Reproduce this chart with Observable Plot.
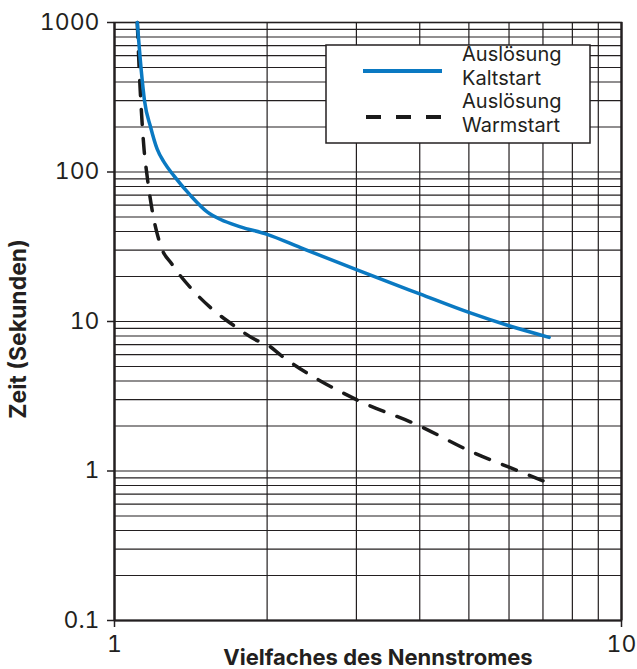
<!DOCTYPE html>
<html><head><meta charset="utf-8">
<script src="https://cdn.jsdelivr.net/npm/d3@7"></script>
<script src="https://cdn.jsdelivr.net/npm/@observablehq/plot@0.6"></script>
<style>body{margin:0;background:#fff} #chart svg{display:block}</style>
</head><body><div id="chart"></div>
<script>
// Auslösung Kaltstart (solid blue)
const kaltX = [1.109, 1.129, 1.146, 1.178, 1.214, 1.255, 1.309, 1.412, 1.523, 1.619, 1.772, 2, 2.327, 3, 4, 5, 6, 7.2];
const kaltY = [1000, 481, 300, 200, 142, 115, 94.5, 69.7, 54.1, 48.1, 43, 38.3, 31.2, 22.2, 15.3, 11.5, 9.36, 7.83];
// Auslösung Warmstart (dashed black)
const warmX = [1.109, 1.117, 1.124, 1.133, 1.144, 1.157, 1.187, 1.232, 1.30, 1.413, 1.559, 1.719, 1.912, 2, 2.13, 3, 4, 5, 6, 7];
const warmY = [1000, 550, 350, 220, 140, 100, 55, 32.5, 24, 16.8, 12.1, 9.4, 7.45, 7, 5.93, 3.0, 2.0, 1.37, 1.06, 0.86];

const xTicks = [1, 10];
const xTickLabels = ["1", "10"];
const yTicks = [0.1, 1, 10, 100, 1000];
const yTickLabels = ["0.1", "1", "10", "100", "1000"];
const mantissas = [1, 2, 3, 4, 5, 6, 7, 8, 9];
const decades = [0.1, 1, 10, 100];
const xGrid = [1, 2, 3, 4, 5, 6, 7, 8, 9, 10];
const yGrid = decades.flatMap(d => mantissas.map(m => m * d)).concat([1000]);

const legendLabels = [["Auslösung", "Kaltstart"], ["Auslösung", "Warmstart"]];
const xTitle = "Vielfaches des Nennstromes";
const yTitle = "Zeit (Sekunden)";

const FONT = "Inter, 'DejaVu Sans', sans-serif";
const ink = "#231f20";
const blue = "#0a79c2";

const kalt = kaltX.map((x, i) => ({x, y: kaltY[i]}));
const warm = warmX.map((x, i) => ({x, y: warmY[i]}));

const svg = Plot.plot({
  width: 637, height: 669,
  marginLeft: 114, marginRight: 16, marginTop: 22, marginBottom: 49,
  style: {fontFamily: FONT, background: "#fff", color: ink, overflow: "visible"},
  x: {type: "log", domain: [1, 10]},
  y: {type: "log", domain: [0.1, 1000]},
  marks: [
    Plot.ruleY(yGrid, {stroke: ink, strokeWidth: 1.2}),
    Plot.ruleX(xGrid, {stroke: ink, strokeWidth: 1.2}),
    Plot.frame({stroke: ink, strokeWidth: 1.6}),
    Plot.ruleX([1, 10], {stroke: ink, strokeWidth: 2.2}),
    Plot.ruleY([0.1], {stroke: ink, strokeWidth: 2.2}),
    Plot.axisY({ticks: yTicks, tickFormat: d => yTickLabels[yTicks.indexOf(d)], tickSize: 7, tickPadding: 8,
      fontSize: 23, label: null, stroke: ink, strokeWidth: 1.5, fill: ink}),
    Plot.axisX({ticks: xTicks, tickFormat: d => xTickLabels[xTicks.indexOf(d)], tickSize: 7, tickPadding: 8,
      fontSize: 23, label: null, stroke: ink, strokeWidth: 1.5, fill: ink}),
    Plot.line(warm, {x: "x", y: "y", stroke: "#1a1a1a", strokeWidth: 3.5, strokeDasharray: "15,14", curve: "monotone-x"}),
    Plot.line(kalt, {x: "x", y: "y", stroke: blue, strokeWidth: 3.5, curve: "monotone-x"})
  ]
});

const s = d3.select(svg);
// legend
const lg = s.append("g");
lg.append("rect").attr("x", 326).attr("y", 45).attr("width", 264).attr("height", 98)
  .attr("fill", "#fff").attr("stroke", ink).attr("stroke-width", 1.5);
lg.append("line").attr("x1", 363).attr("x2", 442).attr("y1", 71).attr("y2", 71)
  .attr("stroke", blue).attr("stroke-width", 4);
lg.append("line").attr("x1", 366).attr("x2", 441).attr("y1", 117).attr("y2", 117)
  .attr("stroke", "#1a1a1a").attr("stroke-width", 4).attr("stroke-dasharray", "15,15");
const base = [60.7, 85, 108, 131.7];
legendLabels.flat().forEach((t, i) => {
  lg.append("text").attr("x", 462).attr("y", base[i]).attr("font-size", 20).attr("text-anchor", "start")
    .attr("font-family", FONT).attr("fill", ink).text(t);
});
// axis titles
s.append("text").attr("x", 378).attr("y", 665).attr("text-anchor", "middle")
  .attr("font-size", 22).attr("font-weight", "bold").attr("font-family", FONT).attr("fill", ink).text(xTitle);
s.append("text").attr("transform", "translate(26,329) rotate(-90)").attr("text-anchor", "middle")
  .attr("font-size", 23).attr("font-weight", "bold").attr("font-family", FONT).attr("fill", ink).text(yTitle);

document.getElementById("chart").appendChild(svg);
</script>
</body></html>
